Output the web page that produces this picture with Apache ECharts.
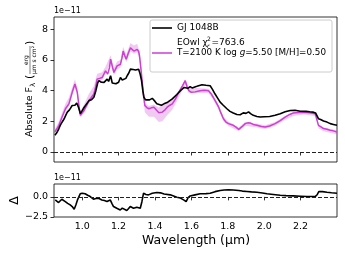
<!DOCTYPE html>
<html><head><meta charset="utf-8">
<script src="https://cdn.jsdelivr.net/npm/echarts@6/dist/echarts.min.js"></script>
<style>html,body{margin:0;padding:0;background:#fff}#c{width:345px;height:259px}</style>
</head><body><div id="c"></div>
<script>
// Observed spectrum (GJ 1048B), flux in units of 1e-11
var obsWave = [0.850,0.860,0.872,0.880,0.890,0.900,0.910,0.918,0.930,0.945,0.960,0.970,0.980,0.990,1.000,1.010,1.025,1.037,1.050,1.064,1.075,1.085,1.092,1.105,1.120,1.130,1.137,1.145,1.156,1.165,1.175,1.185,1.192,1.200,1.210,1.220,1.230,1.240,1.247,1.256,1.265,1.280,1.293,1.303,1.310,1.318,1.326,1.333,1.339,1.348,1.357,1.370,1.385,1.400,1.410,1.420,1.435,1.449,1.470,1.495,1.520,1.540,1.560,1.580,1.593,1.604,1.630,1.658,1.680,1.703,1.715,1.730,1.745,1.758,1.775,1.795,1.812,1.830,1.850,1.868,1.885,1.900,1.914,1.925,1.940,1.960,1.978,2.000,2.030,2.060,2.088,2.115,2.143,2.170,2.198,2.230,2.250,2.270,2.282,2.290,2.298,2.310,2.326,2.345,2.363,2.380,2.400];
var obsFlux = [1.10,1.25,1.53,1.75,1.96,2.15,2.40,2.60,2.75,3.03,3.05,3.20,2.90,2.50,2.70,2.90,3.15,3.35,3.40,3.57,4.00,4.50,4.65,4.55,4.54,4.45,4.75,4.60,4.97,4.50,4.43,4.45,4.32,4.55,4.86,4.70,4.65,4.80,4.97,5.15,5.40,5.38,5.35,5.42,5.40,5.10,4.65,4.00,3.57,3.40,3.35,3.40,3.50,3.30,3.15,3.03,3.05,3.14,3.25,3.46,3.75,4.00,4.21,4.15,4.26,4.18,4.28,4.39,4.35,4.32,4.10,3.78,3.50,3.25,3.05,2.82,2.65,2.54,2.45,2.43,2.55,2.52,2.62,2.50,2.39,2.32,2.28,2.30,2.32,2.40,2.50,2.62,2.71,2.72,2.66,2.65,2.62,2.60,2.55,2.50,2.17,2.12,2.02,1.95,1.85,1.80,1.74];
// Model spectrum
var modelWave = [0.850,0.860,0.872,0.890,0.908,0.927,0.945,0.960,0.973,0.982,0.990,1.000,1.010,1.025,1.037,1.050,1.064,1.075,1.082,1.095,1.110,1.120,1.128,1.140,1.150,1.156,1.165,1.174,1.183,1.192,1.210,1.218,1.225,1.233,1.242,1.252,1.265,1.275,1.284,1.293,1.302,1.310,1.315,1.322,1.330,1.337,1.344,1.355,1.366,1.380,1.394,1.410,1.421,1.440,1.455,1.467,1.482,1.495,1.512,1.530,1.550,1.566,1.576,1.586,1.600,1.620,1.648,1.670,1.694,1.708,1.720,1.735,1.750,1.762,1.776,1.790,1.804,1.830,1.845,1.860,1.878,1.896,1.910,1.923,1.940,1.960,1.985,2.005,2.030,2.060,2.088,2.115,2.140,2.160,2.190,2.216,2.250,2.280,2.290,2.298,2.310,2.326,2.345,2.363,2.380,2.400];
var modelFlux = [1.31,1.50,1.74,2.30,2.82,3.14,3.89,4.43,3.89,3.00,2.39,2.55,2.71,3.05,3.35,3.55,3.78,4.30,4.75,4.80,4.86,5.10,5.29,5.08,5.50,6.05,5.60,5.18,5.40,5.61,5.72,6.10,6.58,6.30,6.05,6.40,6.79,6.70,6.58,6.65,6.69,6.55,6.26,5.50,4.54,3.70,3.03,2.90,2.82,2.88,2.92,2.70,2.56,2.60,2.75,2.92,3.05,3.14,3.45,3.89,4.30,4.65,4.25,4.00,3.89,3.92,4.00,4.02,4.00,3.80,3.57,3.25,2.92,2.55,2.17,1.95,1.85,1.74,1.62,1.48,1.65,1.85,1.90,1.89,1.80,1.74,1.66,1.63,1.70,1.85,2.05,2.28,2.45,2.54,2.58,2.60,2.56,2.50,2.40,1.74,1.65,1.53,1.48,1.42,1.38,1.31];
// Model uncertainty band
var bandWave = [0.850,0.872,0.890,0.908,0.927,0.945,0.960,0.973,0.990,1.010,1.037,1.064,1.082,1.110,1.128,1.156,1.174,1.192,1.210,1.225,1.242,1.265,1.284,1.302,1.315,1.330,1.344,1.366,1.394,1.421,1.440,1.467,1.495,1.530,1.566,1.586,1.648,1.694,1.720,1.750,1.776,1.804,1.860,1.896,1.960,2.005,2.060,2.115,2.160,2.216,2.280,2.290,2.298,2.326,2.363,2.400];
var bandLow  = [1.20,1.62,2.15,2.65,2.98,3.70,4.20,3.70,2.25,2.55,3.15,3.60,4.55,4.70,5.10,5.80,5.00,5.40,5.50,6.35,5.85,6.55,6.40,6.50,6.05,4.30,2.60,2.30,2.30,1.96,2.00,2.40,2.75,3.55,4.40,3.85,3.85,3.85,3.40,2.75,2.00,1.70,1.35,1.72,1.60,1.50,1.72,2.10,2.35,2.45,2.35,2.25,1.55,1.35,1.25,1.15];
var bandHigh = [1.50,2.00,2.60,3.15,3.55,4.20,4.75,4.20,2.65,3.10,3.80,4.30,5.10,5.20,5.55,6.30,5.50,5.90,6.00,6.85,6.35,7.10,6.95,7.05,6.55,4.75,3.20,3.00,3.10,2.90,3.10,3.30,3.50,3.95,4.75,4.20,4.15,4.12,3.70,3.05,2.30,1.98,1.60,1.98,1.85,1.75,1.95,2.35,2.60,2.68,2.58,2.48,1.80,1.60,1.50,1.40];
// Residuals (obs - model), units of 1e-11
var resWave = [0.852,0.870,0.888,0.907,0.920,0.934,0.945,0.956,0.965,0.974,0.989,1.000,1.016,1.030,1.044,1.062,1.075,1.090,1.108,1.122,1.136,1.145,1.154,1.163,1.172,1.190,1.209,1.220,1.230,1.245,1.255,1.264,1.282,1.300,1.319,1.328,1.337,1.350,1.364,1.385,1.410,1.430,1.450,1.484,1.520,1.540,1.557,1.571,1.582,1.593,1.620,1.648,1.680,1.703,1.730,1.758,1.780,1.804,1.830,1.860,1.880,1.905,1.930,1.960,1.990,2.015,2.050,2.088,2.120,2.160,2.200,2.235,2.280,2.292,2.300,2.320,2.345,2.370,2.400];
var resVal  = [-0.38,-0.70,-0.29,-0.58,-0.80,-1.00,-1.20,-1.54,-1.00,-0.38,0.38,0.45,0.38,0.20,0.04,-0.29,-0.20,-0.17,-0.38,-0.45,-0.58,-0.40,-0.38,-0.80,-1.20,-1.42,-1.63,-1.40,-1.29,-1.70,-1.45,-1.20,-1.42,-1.30,-1.42,-0.60,0.46,0.30,0.25,0.45,0.54,0.50,0.35,0.25,-0.04,-0.15,-0.38,-0.58,-0.10,0.12,0.25,0.38,0.40,0.46,0.65,0.80,0.85,0.88,0.85,0.80,0.72,0.67,0.62,0.58,0.48,0.38,0.30,0.20,0.15,0.12,0.08,0.04,0.04,0.30,0.67,0.65,0.58,0.52,0.46];
// Tick values
var xTicks = [1.0,1.2,1.4,1.6,1.8,2.0,2.2];
var yTopTicks = [0,2,4,6,8];
var yBotTicks = [-2.5,0];

var FONT = 'DejaVu Sans';
var MAG = '#cc3fd1';
function zip(a,b){ return a.map(function(v,i){ return [v,b[i]]; }); }
function fmt(v){ return v.toFixed(1).replace('-', '\u2212'); }

function xAx(gi, lab){
  return {type:'value', gridIndex:gi, min:0.845, max:2.40,
    axisLine:{show:false}, splitLine:{show:false},
    axisTick:{show:true, inside:false, length:3.5, lineStyle:{color:'#000', width:0.8}, customValues:xTicks},
    axisLabel:{show:lab, customValues:xTicks, formatter:function(v){return Number(v).toFixed(1);}, fontFamily:FONT, fontSize:9.5, color:'#000', margin:5}};
}
function yAx(gi, min, max, ticks, f){
  return {type:'value', gridIndex:gi, min:min, max:max,
    axisLine:{show:false}, splitLine:{show:false},
    axisTick:{show:true, inside:false, length:3.5, lineStyle:{color:'#000', width:0.8}, customValues:ticks},
    axisLabel:{customValues:ticks, formatter:f, fontFamily:FONT, fontSize:9.5, color:'#000', margin:6}};
}
function zeroLine(){ return {silent:true, symbol:['none','none'], label:{show:false},
  lineStyle:{type:[4,2], color:'#222', width:1}, data:[{yAxis:0}]}; }

var chart = echarts.init(document.getElementById('c'), null, {renderer:'canvas'});
window.chart = chart;

var option = {
  animation:false,
  grid:[
    {left:54, top:17, right:8, height:145, show:true, borderColor:'#000', borderWidth:0.8, backgroundColor:'transparent'},
    {left:54, top:184, right:8, height:33, show:true, borderColor:'#000', borderWidth:0.8, backgroundColor:'transparent'}
  ],
  xAxis:[xAx(0,false), xAx(1,true)],
  yAxis:[yAx(0,-0.65,8.8,yTopTicks,function(v){return String(Number(v));}), yAx(1,-2.5,1.6,yBotTicks,function(v){return fmt(Number(v));})],
  series:[
    {type:'custom', xAxisIndex:0, yAxisIndex:0, data:[[1,1]], clip:true, silent:true, z:1,
      renderItem:function(params, api){
        var pts=[], i;
        for(i=0;i<bandWave.length;i++) pts.push(api.coord([bandWave[i], bandHigh[i]]));
        for(i=bandWave.length-1;i>=0;i--) pts.push(api.coord([bandWave[i], bandLow[i]]));
        return {type:'polygon', shape:{points:pts}, style:{fill:'rgba(204,63,209,0.28)'}};
      }},
    {type:'line', xAxisIndex:0, yAxisIndex:0, data:zip(modelWave, modelFlux), showSymbol:false, z:3,
      lineStyle:{color:MAG, width:1.5}, markLine:zeroLine()},
    {type:'line', xAxisIndex:0, yAxisIndex:0, data:zip(obsWave, obsFlux), showSymbol:false, z:4,
      lineStyle:{color:'#000', width:1.6}},
    {type:'line', xAxisIndex:1, yAxisIndex:1, data:zip(resWave, resVal), showSymbol:false, z:4,
      lineStyle:{color:'#000', width:1.6}, markLine:zeroLine()}
  ],
  graphic:[
    {type:'text', left:54, top:7, style:{text:'1e\u221211', font:'8px "DejaVu Sans"', fill:'#000'}},
    {type:'text', left:54, top:174, style:{text:'1e\u221211', font:'8px "DejaVu Sans"', fill:'#000'}},
    {type:'text', x:196, y:241, style:{text:'Wavelength (\u00b5m)', font:'12.5px "DejaVu Sans"', fill:'#000', textAlign:'center', textVerticalAlign:'middle'}},
    {type:'text', x:15, y:200.5, rotation:Math.PI/2, style:{text:'\u0394', font:'12.5px "DejaVu Sans"', fill:'#000', textAlign:'center', textVerticalAlign:'middle'}},
    {type:'group', x:30, y:90, rotation:Math.PI/2, children:[
      {type:'text', x:-47, y:0, style:{text:'Absolute F', font:'9.5px "DejaVu Sans"', fill:'#000', textAlign:'left', textVerticalAlign:'middle'}},
      {type:'text', x:3, y:3, style:{text:'\u03bb', font:'7px "DejaVu Sans"', fill:'#000', textAlign:'left', textVerticalAlign:'middle'}},
      {type:'text', x:11, y:0, style:{text:'(', font:'11px "DejaVu Sans"', fill:'#000', textAlign:'left', textVerticalAlign:'middle'}},
      {type:'text', x:30, y:-4, style:{text:'erg', font:'6px "DejaVu Sans"', fill:'#000', textAlign:'center', textVerticalAlign:'middle'}},
      {type:'line', shape:{x1:16, y1:0, x2:44, y2:0}, style:{stroke:'#000', lineWidth:0.5}},
      {type:'text', x:30, y:4, style:{text:'\u00b5m s cm\u00b2', font:'6px "DejaVu Sans"', fill:'#000', textAlign:'center', textVerticalAlign:'middle'}},
      {type:'text', x:45, y:0, style:{text:')', font:'11px "DejaVu Sans"', fill:'#000', textAlign:'left', textVerticalAlign:'middle'}}
    ]},
    {type:'rect', shape:{x:150, y:20, width:182, height:52, r:2}, style:{fill:'rgba(255,255,255,0.8)', stroke:'#cccccc', lineWidth:1}, z:10},
    {type:'line', shape:{x1:152, y1:28, x2:172, y2:28}, style:{stroke:'#000', lineWidth:1.6}, z:11},
    {type:'text', x:177, y:28, style:{text:'GJ 1048B', font:'9px "DejaVu Sans"', fill:'#000', textVerticalAlign:'middle'}, z:11},
    {type:'text', x:177, y:43, style:{text:'EOwl \u03c7', font:'9px "DejaVu Sans"', fill:'#000', textVerticalAlign:'middle'}, z:11},
    {type:'text', x:207, y:39.5, style:{text:'2', font:'6px "DejaVu Sans"', fill:'#000', textVerticalAlign:'middle'}, z:11},
    {type:'text', x:207, y:46.5, style:{text:'r', font:'italic 6px "DejaVu Sans"', fill:'#000', textVerticalAlign:'middle'}, z:11},
    {type:'text', x:211.5, y:43, style:{text:'=763.6', font:'9px "DejaVu Sans"', fill:'#000', textVerticalAlign:'middle'}, z:11},
    {type:'line', shape:{x1:152, y1:53, x2:172, y2:53}, style:{stroke:MAG, lineWidth:1.5}, z:11},
    {type:'text', x:177, y:53, style:{text:'T=2100 K log {i|g}=5.50 [M/H]=0.50', font:'8.8px "DejaVu Sans"', fill:'#000', textVerticalAlign:'middle',
      rich:{i:{fontStyle:'italic', fontSize:8.8, fontFamily:FONT}}}, z:11}
  ]
};
chart.setOption(option);
</script></body></html>
